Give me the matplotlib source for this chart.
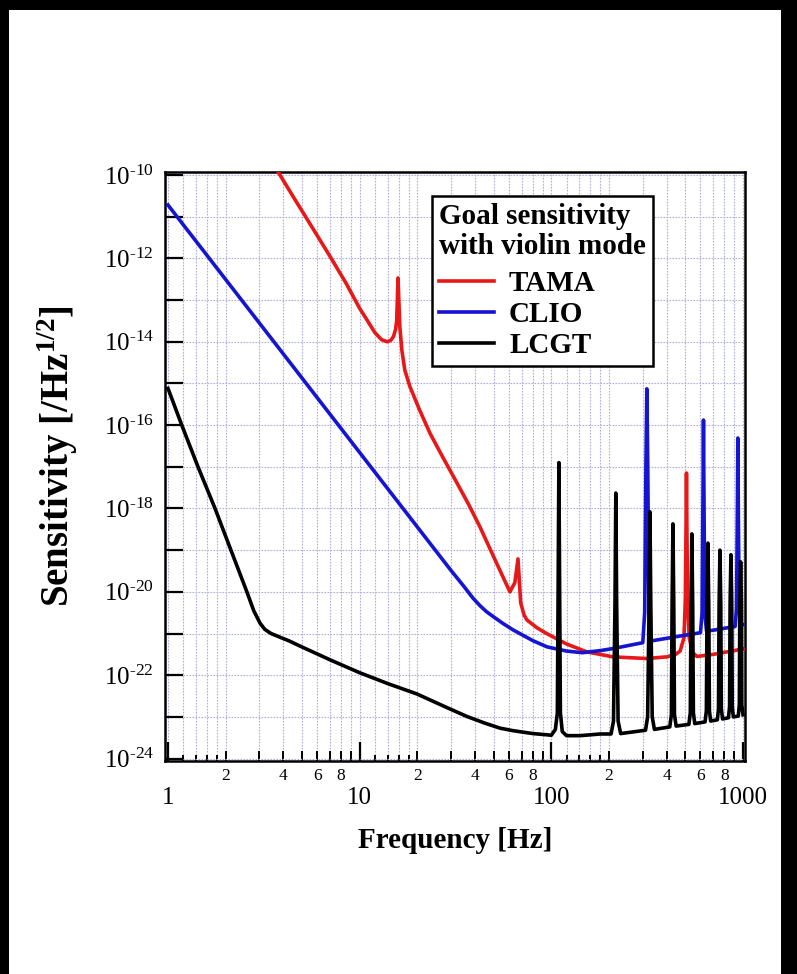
import numpy as np
import matplotlib
matplotlib.use("Agg")
import matplotlib.pyplot as plt
from matplotlib.patches import Rectangle
from matplotlib.ticker import FixedLocator, FixedFormatter
from matplotlib.font_manager import FontProperties

plt.rcParams['font.family'] = ['Liberation Serif', 'DejaVu Serif']
plt.rcParams['mathtext.fontset'] = 'custom'
plt.rcParams['mathtext.rm'] = 'Liberation Serif'
plt.rcParams['mathtext.bf'] = 'Liberation Serif:bold'
plt.rcParams['mathtext.it'] = 'Liberation Serif:italic'

# ---------------- data (frequency in Hz, sensitivity as log10 exponent) ----------------
tama_freq = [3.7, 3.84, 4.5, 5.0, 6.0, 7.0, 8.5, 10.0, 11.0, 12.0, 13.0, 13.9, 14.5, 15.0, 15.4,
             15.6, 15.85, 16.2, 16.6, 17.2, 18.3, 20.6, 23.3, 27.0, 32.2, 37.0, 42.4, 48.0, 55.9,
             60.8, 64.5, 67.0, 69.2, 72.0, 74.4, 84.0, 94.5, 120.0,
             153.0, 210.0, 315.0, 400.0, 445.0, 470.0, 492.0, 500.0, 504.0, 507.0, 510.0, 514.0,
             524.0, 545.0, 575.0, 700.0, 1000.0]
tama_exp = [-9.88, -10.0, -10.52, -10.86, -11.45, -11.95, -12.6, -13.2, -13.5, -13.78, -13.95,
            -14.0, -13.97, -13.88, -13.7, -13.5, -12.47, -13.64, -14.2, -14.68, -15.08, -15.65,
            -16.2, -16.75, -17.39, -17.9, -18.44, -18.98, -19.64,
            -20.0, -19.78, -19.21, -20.26, -20.55, -20.67, -20.86, -21.0, -21.25,
            -21.44, -21.56, -21.6, -21.56, -21.5, -21.42, -21.1, -20.2, -18.6, -17.15, -18.6,
            -20.2, -21.1, -21.45, -21.55, -21.5, -21.37]

clio_freq = [1.0, 25.0, 30.0, 35.0, 39.0, 42.4, 46.0, 50.0, 56.0, 63.0, 80.0, 95.0, 120.0,
             145.0, 180.0, 210.0,
             300.0, 307.0, 311.5, 315.0, 318.5, 323.0, 330.0, 470.0,
             600.0, 612.0, 618.5, 622.0, 625.5, 632.0, 645.0, 700.0,
             910.0, 925.0, 935.0, 940.0, 945.0, 955.0, 975.0, 1000.0]
clio_exp = [-10.72, -19.02, -19.49, -19.87, -20.15, -20.33, -20.48, -20.6, -20.76, -20.91,
            -21.17, -21.32, -21.42, -21.46, -21.41, -21.36,
            -21.22, -20.5, -17.0, -15.13, -17.0, -20.5, -21.18, -21.06,
            -20.98, -20.5, -17.6, -15.88, -17.6, -20.5, -20.94, -20.92,
            -20.83, -20.4, -17.9, -16.31, -17.9, -20.4, -20.8, -20.79]

lcgt_freq = [1.0, 1.18, 1.434, 1.76, 2.13, 2.58, 2.8, 3.02, 3.2, 3.45, 3.8, 4.3, 4.88, 7.0,
             10.0, 14.0, 19.9, 28.0, 36.3, 45.0, 54.0, 63.0, 80.0, 95.0,
             100.0, 105.0, 107.5, 108.4, 109.5, 110.6, 111.5, 114.0, 120.0, 141.0, 180.0,
             205.0, 211.0, 214.8, 217.0, 219.2, 223.0, 230.0,
             310.0, 318.0, 323.7, 327.0, 330.3, 336.0, 345.0,
             415.0, 423.0, 426.7, 431.0, 435.3, 439.0, 448.0,
             522.0, 531.0, 535.6, 541.0, 546.4, 551.0, 560.0,
             634.0, 644.0, 649.4, 656.0, 662.6, 668.0, 678.0,
             735.0, 745.0, 750.4, 758.0, 765.6, 771.0, 782.0,
             840.0, 851.0, 856.4, 865.0, 873.7, 879.0, 890.0,
             945.0, 957.0, 962.3, 972.0, 981.7, 985.0, 1000.0]
lcgt_exp = [-15.12, -16.0, -17.0, -18.0, -19.0, -20.0, -20.45, -20.75, -20.9, -21.0, -21.08,
            -21.18, -21.3, -21.63, -21.94, -22.2, -22.45, -22.76, -22.99, -23.15, -23.27, -23.33,
            -23.4, -23.43,
            -23.44, -23.3, -22.9, -20.3, -16.9, -20.3, -22.9, -23.35, -23.45, -23.45, -23.41,
            -23.41, -23.1, -20.3, -17.63, -20.3, -23.1, -23.4,
            -23.32, -23.0, -20.3, -18.08, -20.3, -23.0, -23.3,
            -23.24, -22.95, -20.3, -18.37, -20.3, -22.95, -23.22,
            -23.18, -22.9, -20.3, -18.61, -20.3, -22.9, -23.16,
            -23.12, -22.85, -20.3, -18.83, -20.3, -22.85, -23.1,
            -23.07, -22.8, -20.3, -19.0, -20.3, -22.8, -23.05,
            -23.02, -22.75, -20.3, -19.11, -20.3, -22.75, -23.0,
            -22.98, -22.7, -20.3, -19.28, -20.3, -22.7, -22.95]

series_labels = ['TAMA', 'CLIO', 'LCGT']
legend_title = 'Goal sensitivity\nwith violin mode'
x_major = [1, 10, 100, 1000]
x_major_labels = ['1', '10', '100', '1000']
x_minor_mult = [1.2, 1.4, 1.6, 1.8, 2, 3, 4, 5, 6, 7, 8, 9]
x_minor_labeled = [2, 4, 6, 8]
y_label_exps = [-10, -12, -14, -16, -18, -20, -22, -24]
y_unlabeled_exps = [-11, -13, -15, -17, -19, -21, -23]

# ---------------- figure ----------------
W, H = 797, 974
fig = plt.figure(figsize=(W / 100, H / 100), dpi=100)
fig.patch.set_facecolor('white')
ax = fig.add_axes([165 / W, 1 - 761 / H, 580 / W, 589 / H])
ax.set_xscale('log')
ax.set_yscale('log')

lw = 2.6
l1, = ax.plot(tama_freq, 10.0 ** np.array(tama_exp), color='#e81818', lw=lw,
              label=series_labels[0], zorder=3, solid_joinstyle='round')
l2, = ax.plot(clio_freq, 10.0 ** np.array(clio_exp), color='#1414d2', lw=lw,
              label=series_labels[1], zorder=3.1, solid_joinstyle='round')
l3, = ax.plot(lcgt_freq, 10.0 ** np.array(lcgt_exp), color='black', lw=lw,
              label=series_labels[2], zorder=3.2, solid_joinstyle='round')

ax.set_xlim(0.9647, 1024.3)
ax.set_ylim(10 ** -24.058, 10 ** -9.928)

# x ticks
minor_locs, minor_labs = [], []
for d in x_major[:-1]:
    for m in x_minor_mult:
        minor_locs.append(m * d)
        minor_labs.append(str(int(m)) if m in x_minor_labeled else '')
ax.xaxis.set_major_locator(FixedLocator(x_major))
ax.xaxis.set_major_formatter(FixedFormatter(x_major_labels))
ax.xaxis.set_minor_locator(FixedLocator(minor_locs))
ax.xaxis.set_minor_formatter(FixedFormatter(minor_labs))

# y ticks
ax.yaxis.set_major_locator(FixedLocator([10.0 ** e for e in y_label_exps]))
ax.yaxis.set_major_formatter(FixedFormatter([r'$10^{\text{-}%d}$' % (-e) for e in y_label_exps]))
ax.yaxis.set_minor_locator(FixedLocator([10.0 ** e for e in y_unlabeled_exps]))
ax.yaxis.set_minor_formatter(FixedFormatter([''] * len(y_unlabeled_exps)))

ax.tick_params(axis='x', which='major', direction='in', length=14, width=1.6, pad=19,
               labelsize=18, top=False, bottom=True)
ax.tick_params(axis='x', which='minor', direction='in', length=7.5, width=1.4, pad=5,
               labelsize=12.5, top=False, bottom=True)
ax.tick_params(axis='y', which='both', direction='in', length=13, width=1.6, pad=8,
               labelsize=18, left=True, right=False)

for t, loc in zip(ax.xaxis.get_minor_ticks(len(minor_locs)), minor_locs):
    m = loc / (10 ** np.floor(np.log10(loc) + 1e-9))
    if m < 1.95:
        t.tick1line.set_markersize(4)

grid_kw = dict(color='#aeaee0', linestyle=(0, (1.5, 1.2)), linewidth=0.8)
ax.grid(True, which='both', axis='both', **grid_kw)
ax.set_axisbelow(True)

for s in ax.spines.values():
    s.set_linewidth(1.8)
    s.set_color('black')

# labels
ax.set_xlabel('Frequency [Hz]', fontsize=21, fontweight='bold', va='center')
ax.xaxis.set_label_coords(0.5, (761 - 841) / 589)
ax.set_ylabel(r'Sensitivity [/Hz$^{\mathbf{1/2}}$]', fontsize=28, fontweight='bold', va='center')
ax.yaxis.set_label_coords((58 - 165) / 580, (761 - 456) / 589)

# legend
fp = FontProperties(family='Liberation Serif', weight='bold', size=21)
leg = ax.legend(handles=[l1, l2, l3], labels=series_labels, loc='upper left',
                bbox_to_anchor=(432 / W, 1 - 196 / H), bbox_transform=fig.transFigure,
                borderaxespad=0, title=legend_title, title_fontproperties=fp, prop=fp,
                frameon=True, fancybox=False, framealpha=1, edgecolor='black',
                borderpad=0.24, handlelength=1.9, handletextpad=0.5, labelspacing=0.14,
                alignment='left')
leg.get_frame().set_linewidth(1.8)
leg.get_title().set_linespacing(1.15)
leg._legend_box.sep = 7
leg.set_zorder(10)

# black border of the picture
for (x0, y0, w, h) in [(0, 0, 9, H), (0, H - 10, W, 10), (781, 0, W - 781, H)]:
    fig.patches.append(Rectangle((x0 / W, y0 / H), w / W, h / H, transform=fig.transFigure,
                                 facecolor='black', edgecolor='none', zorder=-1))

fig.savefig('out.png', dpi=100, facecolor='white')
